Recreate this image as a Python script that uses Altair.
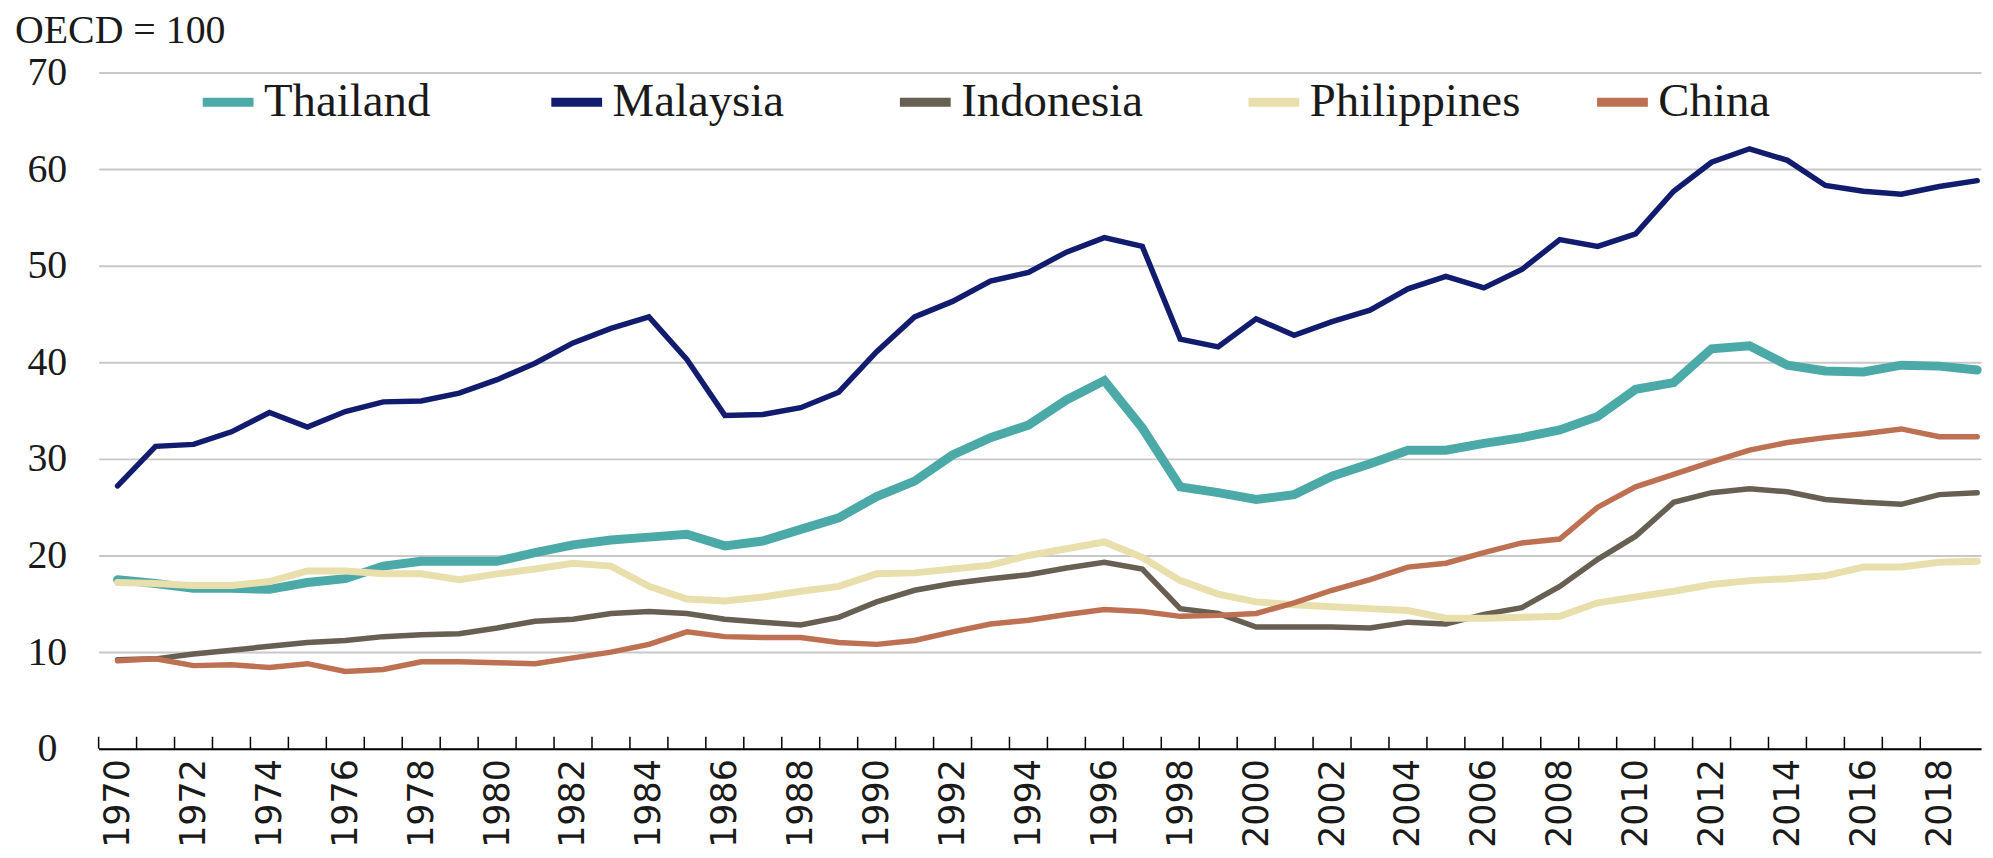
import altair as alt
import pandas as pd

years = list(range(1970, 2020))
countries = ["Thailand", "Malaysia", "Indonesia", "Philippines", "China"]
colors = ["#4BAAA7", "#121C6E", "#665F52", "#E8DFAD", "#BE7052"]
widths = [9, 5.5, 5.5, 7, 5.5]
unit_label = "OECD = 100"

thailand = [17.5, 17.1, 16.6, 16.6, 16.5, 17.2, 17.6, 18.9, 19.4, 19.4,
            19.4, 20.3, 21.1, 21.6, 21.9, 22.2, 21.0, 21.5, 22.7, 23.9,
            26.1, 27.7, 30.4, 32.2, 33.5, 36.1, 38.1, 33.2, 27.1, 26.5,
            25.8, 26.3, 28.2, 29.5, 30.9, 30.9, 31.6, 32.2, 33.0, 34.4,
            37.2, 37.9, 41.4, 41.7, 39.7, 39.1, 39.0, 39.7, 39.6, 39.2]
malaysia = [27.2, 31.3, 31.5, 32.8, 34.8, 33.3, 34.9, 35.9, 36.0, 36.8,
            38.2, 39.9, 42.0, 43.5, 44.7, 40.3, 34.5, 34.6, 35.3, 36.9,
            41.1, 44.7, 46.3, 48.4, 49.3, 51.4, 52.9, 52.0, 42.4, 41.6,
            44.5, 42.8, 44.2, 45.4, 47.6, 48.9, 47.7, 49.6, 52.7, 52.0,
            53.3, 57.7, 60.7, 62.1, 60.9, 58.3, 57.7, 57.4, 58.2, 58.8]
indonesia = [9.2, 9.3, 9.8, 10.2, 10.6, 11.0, 11.2, 11.6, 11.8, 11.9,
             12.5, 13.2, 13.4, 14.0, 14.2, 14.0, 13.4, 13.1, 12.8, 13.6,
             15.2, 16.4, 17.1, 17.6, 18.0, 18.7, 19.3, 18.6, 14.5, 14.0,
             12.6, 12.6, 12.6, 12.5, 13.1, 12.9, 13.9, 14.6, 16.8, 19.6,
             22.0, 25.5, 26.5, 26.9, 26.6, 25.8, 25.5, 25.3, 26.3, 26.5]
philippines = [17.2, 17.1, 16.9, 16.9, 17.3, 18.4, 18.4, 18.1, 18.1, 17.5,
               18.1, 18.6, 19.2, 18.9, 16.8, 15.5, 15.3, 15.7, 16.3, 16.8,
               18.1, 18.2, 18.6, 19.0, 20.0, 20.7, 21.4, 19.8, 17.4, 16.0,
               15.2, 14.9, 14.7, 14.5, 14.3, 13.5, 13.5, 13.6, 13.7, 15.1,
               15.7, 16.3, 17.0, 17.4, 17.6, 17.9, 18.8, 18.8, 19.3, 19.4]
china = [9.1, 9.3, 8.6, 8.7, 8.4, 8.8, 8.0, 8.2, 9.0, 9.0,
         8.9, 8.8, 9.4, 10.0, 10.8, 12.1, 11.6, 11.5, 11.5, 11.0,
         10.8, 11.2, 12.1, 12.9, 13.3, 13.9, 14.4, 14.2, 13.7, 13.8,
         14.0, 15.1, 16.4, 17.5, 18.8, 19.2, 20.3, 21.3, 21.7, 25.0,
         27.1, 28.4, 29.7, 30.9, 31.7, 32.2, 32.6, 33.1, 32.3, 32.3]

series = [thailand, malaysia, indonesia, philippines, china]
rows = []
for name, vals in zip(countries, series):
    for yr, v in zip(years, vals):
        rows.append({"country": name, "year": yr, "value": v})
df = pd.DataFrame(rows)

tick_df = pd.DataFrame({"year": [yr - 0.5 for yr in years[:-1]]})
label_years = [yr for yr in years if yr % 2 == 0]

W, H = 1890, 679
x_scale = alt.Scale(domain=[1969.5, 2019.1], nice=False, zero=False)
y_scale = alt.Scale(domain=[0, 70], nice=False, zero=True)
color_scale = alt.Scale(domain=countries, range=colors)

legend = alt.Legend(
    orient="none", legendX=100, legendY=0, direction="horizontal", columns=5,
    gridAlign="all", columnPadding=58, title=None,
    symbolType="stroke", symbolSize=2600, symbolStrokeWidth=9,
    labelFont="Liberation Serif", labelFontSize=47, labelColor="#1a1a1a",
    labelLimit=500, labelOffset=6,
)

x_axis = alt.Axis(
    values=label_years, labelAngle=270, labelExpr="'' + datum.value",
    grid=False, ticks=False, domain=True, domainColor="#000000", domainWidth=2,
    labelFont="DejaVu Sans", labelFontSize=35, labelColor="#1a1a1a",
    labelPadding=10, labelOverlap=False, labelFlush=False, labelBound=False,
    title=None,
)
y_axis = alt.Axis(
    values=list(range(0, 71, 10)), grid=True, gridColor="#C8C8C8", gridWidth=2,
    domain=False, ticks=False, labelFont="Liberation Serif", labelFontSize=40,
    labelColor="#1a1a1a", labelAlign="center", labelBaseline="middle",
    labelPadding=52, title=None,
)

X = alt.X("year:Q", scale=x_scale, axis=x_axis)
Y = alt.Y("value:Q", scale=y_scale, axis=y_axis)

base = alt.Chart(df)

layers = []
for name, w in zip(countries, widths):
    layers.append(
        base.transform_filter(alt.datum.country == name)
        .mark_line(strokeWidth=w, strokeCap="round")
        .encode(x=X, y=Y,
                color=alt.Color("country:N", scale=color_scale, legend=legend))
    )

ticks = alt.Chart(tick_df).mark_rule(color="#000000", strokeWidth=1.5).encode(
    x=X,
    y=alt.value(H), y2=alt.value(H - 12),
)

unit = alt.Chart(pd.DataFrame({"t": [unit_label]})).mark_text(
    align="left", baseline="alphabetic", font="Liberation Serif",
    fontSize=40, color="#1a1a1a",
).encode(x=alt.value(-84), y=alt.value(-30), text="t:N")

chart = alt.layer(*layers, ticks, unit).properties(
    width=W, height=H,
    autosize=alt.AutoSizeParams(type="none"),
    padding={"left": 91, "top": 63, "right": 4, "bottom": 100},
    background="white",
).configure_view(stroke=None)

chart.save("out.html", embed_options={"renderer": "svg", "actions": False})
